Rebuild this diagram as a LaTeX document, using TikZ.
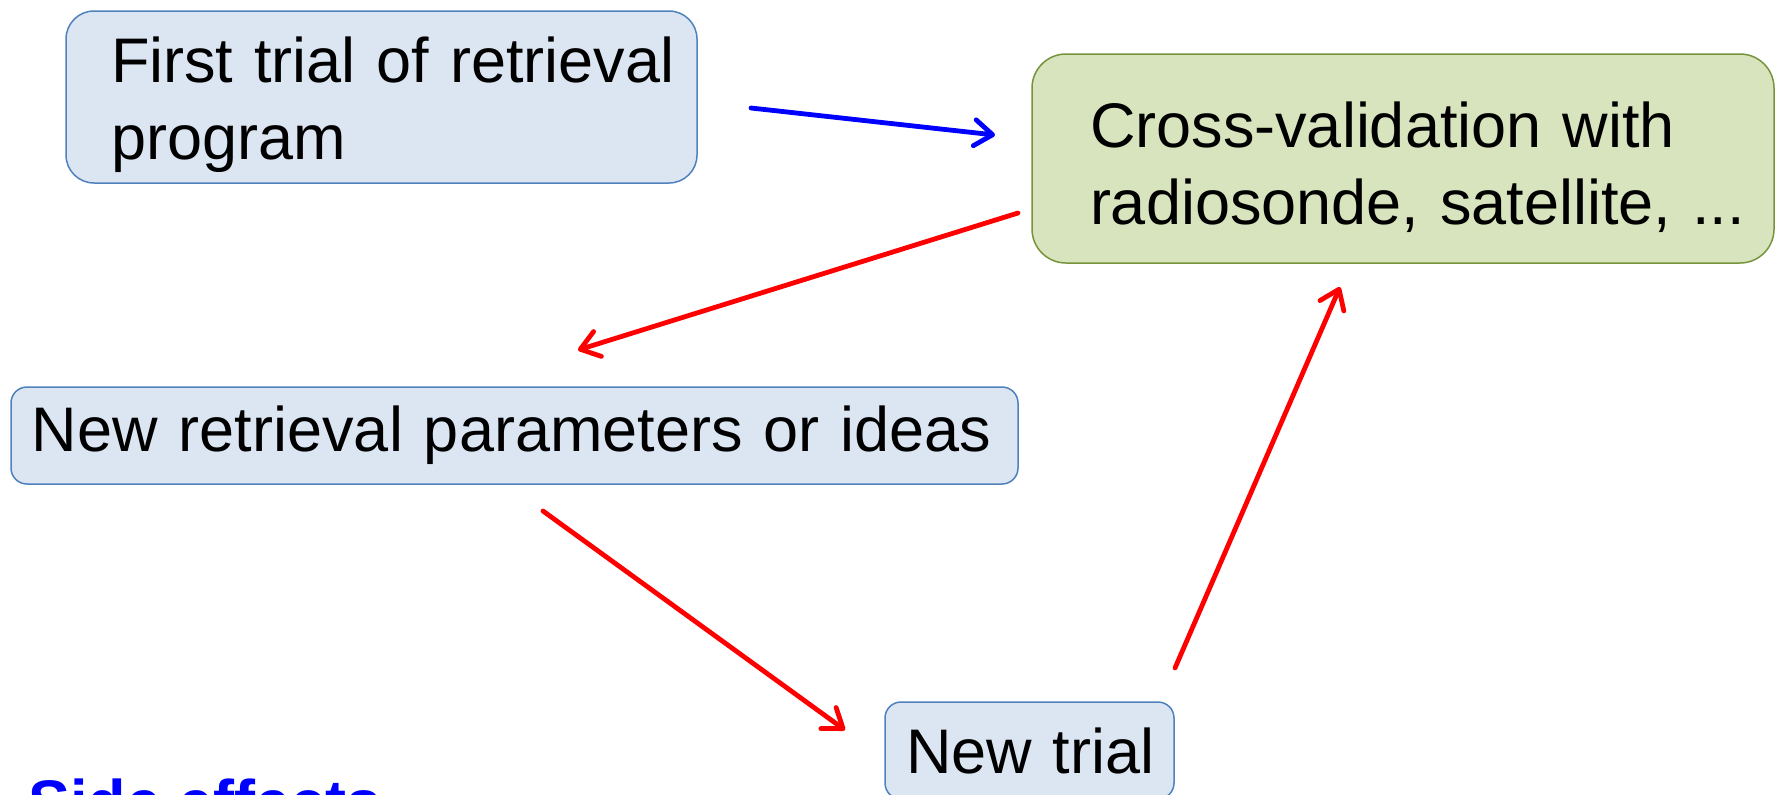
\documentclass[tikz,border=0pt]{standalone}
\usepackage{fontspec}
\setmainfont{Liberation Sans}
\usetikzlibrary{arrows.meta}
\definecolor{boxblue}{HTML}{DCE6F2}
\definecolor{lineblue}{HTML}{4F81BD}
\definecolor{boxgreen}{HTML}{D7E4BD}
\definecolor{linegreen}{HTML}{77933C}
\newcommand\boxfont{\fontsize{31.5}{38.5}\selectfont
  \hyphenpenalty=10000\relax\exhyphenpenalty=10000\relax}
% struts that set where the two text lines sit in a box
\newcommand\uptop[1]{\rule{0pt}{#1}}
\newcommand\downbot{\rule[-7pt]{0pt}{7pt}}
\begin{document}
\begin{tikzpicture}[x=0.5pt,y=-0.5pt,
  box/.style={draw=lineblue,fill=boxblue,line width=0.75pt,align=left,
    inner ysep=0pt,font=\boxfont},
  green box/.style={box,draw=linegreen,fill=boxgreen},
  arr/.style={line width=2.4pt,line cap=round,
    -{Straight Barb[length=9pt,width=13pt,line cap=round,line join=round]}}]

  \useasboundingbox (0,0) rectangle (1776,794);

  \node[box,rounded corners=14pt,minimum width=315.5pt,minimum height=86pt,
    inner xsep=22.5pt,text width=270.5pt] (first) at (381.5,97)
    {\uptop{30.5pt}First~trial~of~retrieval\\program\downbot};
  \node[green box,rounded corners=17pt,minimum width=371pt,minimum height=104.5pt,
    inner xsep=29pt,text width=313pt] (cross) at (1403,158.5)
    {\uptop{34pt}Cross-validation~with\\radiosonde,~satellite,~...\downbot};
  \node[box,rounded corners=8pt,minimum width=503.5pt,minimum height=48.5pt,
    inner xsep=10.5pt,text width=482.5pt] (params) at (514.5,435.5)
    {New~retrieval~parameters~or~ideas};
  \node[box,rounded corners=8pt,minimum width=144.5pt,minimum height=48.5pt,
    inner xsep=10.5pt,text width=123.5pt] (trial) at (1029.5,750.5)
    {New~trial};
  \node[anchor=base west,inner sep=0pt,text=blue,
    font=\bfseries\fontsize{31.5}{38.5}\selectfont] (side) at (28,824) {Side effects};

  % arrow ends
  \coordinate (first out) at (751,108);
  \coordinate (cross in) at (995,135);
  \coordinate (cross out) at (1018,213);
  \coordinate (params in) at (578,350);
  \coordinate (params out) at (543,511);
  \coordinate (trial in) at (845,730);
  \coordinate (trial out) at (1175,668);
  \coordinate (cross back) at (1340,287);

  \path[arr]
   (first out) edge[blue] (cross in)
   (cross out) edge[red] (params in)
   (params out) edge[red] (trial in)
   (trial out) edge[red] (cross back);
\end{tikzpicture}
\end{document}
